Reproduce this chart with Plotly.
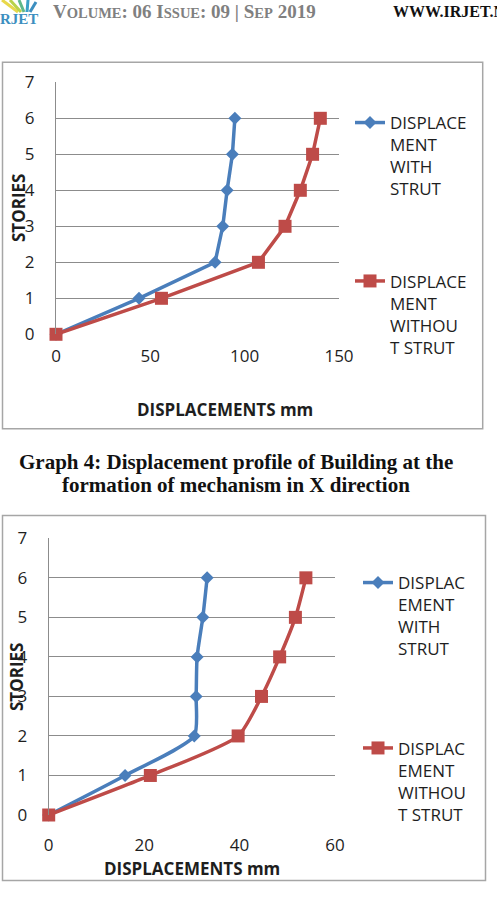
import plotly.graph_objects as go

W, H = 497, 897

# ---------------- data ----------------
stories = [0, 1, 2, 3, 4, 5, 6]
g1_with_strut = [0, 44.0, 84.3, 88.4, 90.7, 93.5, 94.8]
g1_without_strut = [0, 55.9, 107.3, 121.4, 129.5, 136.0, 140.1]
g2_with_strut = [0, 16.0, 30.5, 30.9, 31.1, 32.3, 33.2]
g2_without_strut = [0, 21.3, 39.7, 44.6, 48.4, 51.7, 53.9]
g1_x_ticks = [0, 50, 100, 150]
g2_x_ticks = [0, 20, 40, 60]
y_ticks = [0, 1, 2, 3, 4, 5, 6, 7]
name_with_1 = "DISPLACE<br>MENT<br>WITH<br>STRUT"
name_without_1 = "DISPLACE<br>MENT<br>WITHOU<br>T STRUT"
name_with_2 = "DISPLAC<br>EMENT<br>WITH<br>STRUT"
name_without_2 = "DISPLAC<br>EMENT<br>WITHOU<br>T STRUT"
caption_lines = ["Graph 4: Displacement profile of Building at the",
                 "formation of mechanism in X direction"]

BLUE = "#4a7ebb"
RED = "#be4b48"
GRID = "#8c8c8c"
TXT = "#1e1e1e"
FONT = "Open Sans"


def px(x):
    return x / W


def py(y):
    return 1 - y / H


fig = go.Figure()

# chart 1
fig.add_trace(go.Scatter(x=g1_with_strut, y=stories, name=name_with_1, mode="lines+markers",
                         line=dict(color=BLUE, width=3.5), marker=dict(symbol="diamond", size=10, color=BLUE),
                         xaxis="x", yaxis="y", legend="legend", legendgroup="a", cliponaxis=False))
fig.add_trace(go.Scatter(x=g1_without_strut, y=stories, name=name_without_1, mode="lines+markers",
                         line=dict(color=RED, width=3.5), marker=dict(symbol="square", size=13, color=RED),
                         xaxis="x", yaxis="y", legend="legend", legendgroup="b", cliponaxis=False))
# chart 2
fig.add_trace(go.Scatter(x=g2_with_strut, y=stories, name=name_with_2, mode="lines+markers",
                         line=dict(color=BLUE, width=3.5, shape="spline", smoothing=0.6),
                         marker=dict(symbol="diamond", size=10, color=BLUE),
                         xaxis="x2", yaxis="y2", legend="legend2", legendgroup="c", cliponaxis=False))
fig.add_trace(go.Scatter(x=g2_without_strut, y=stories, name=name_without_2, mode="lines+markers",
                         line=dict(color=RED, width=3.5, shape="spline", smoothing=0.6),
                         marker=dict(symbol="square", size=13, color=RED),
                         xaxis="x2", yaxis="y2", legend="legend2", legendgroup="d", cliponaxis=False))

tickfont = dict(family=FONT, size=17, color=TXT)

ax_common = dict(showgrid=False, zeroline=False, ticks="", tickfont=tickfont, fixedrange=True)
ay_common = dict(showgrid=True, gridcolor=GRID, gridwidth=1, zeroline=False, ticks="",
                 showline=True, linecolor=GRID, linewidth=1, tickfont=tickfont, fixedrange=True,
                 tickvals=y_ticks, range=[0, 7])

fig.update_layout(
    width=W, height=H, margin=dict(l=0, r=0, t=0, b=0, autoexpand=False),
    paper_bgcolor="white", plot_bgcolor="white",
    xaxis=dict(domain=[px(56), px(339)], range=[0, 150], tickvals=g1_x_ticks, anchor="y",
               ticklabelstandoff=10, **ax_common),
    yaxis=dict(domain=[py(334.3), py(82.3)], anchor="x", ticklabelstandoff=17, **ay_common),
    xaxis2=dict(domain=[px(48.7), px(335)], range=[0, 60], tickvals=g2_x_ticks, anchor="y2",
                ticklabelstandoff=18, **ax_common),
    yaxis2=dict(domain=[py(815), py(538.3)], anchor="x2", ticklabelstandoff=17, **ay_common),
    legend=dict(x=px(350), y=py(105), xanchor="left", yanchor="top", valign="top",
                font=dict(family=FONT, size=17, color=TXT), tracegroupgap=67,
                bgcolor="rgba(0,0,0,0)", itemclick=False),
    legend2=dict(x=px(358), y=py(565), xanchor="left", yanchor="top", valign="top",
                 font=dict(family=FONT, size=17, color=TXT), tracegroupgap=74,
                 bgcolor="rgba(0,0,0,0)", itemclick=False),
    showlegend=True,
)

# outer chart borders
for (x0, y0, x1, y1) in [(2.5, 62.3, 482.7, 428.7), (2.5, 515.5, 485.5, 880.5)]:
    fig.add_shape(type="rect", xref="paper", yref="paper", x0=px(x0), x1=px(x1), y0=py(y0), y1=py(y1),
                  line=dict(color="#a6a6a6", width=1.5), fillcolor="rgba(0,0,0,0)", layer="below")

ann = []
bold = dict(family=FONT, size=17, color=TXT)
# axis titles
ann.append(dict(text="<b>DISPLACEMENTS mm</b>", x=px(225), y=py(409), font=bold))
ann.append(dict(text="<b>DISPLACEMENTS mm</b>", x=px(191.5), y=py(868), font=bold))
ann.append(dict(text="<b>STORIES</b>", x=px(18), y=py(208), font=bold, textangle=-90))
ann.append(dict(text="<b>STORIES</b>", x=px(16), y=py(677), font=bold, textangle=-90))
# caption
for txt, yy in zip(caption_lines, [462, 485]):
    ann.append(dict(text="<b>" + txt + "</b>", x=px(236), y=py(yy),
                    font=dict(family="Liberation Serif", size=21, color="#111111")))
# header
sc = "<span style='font-size:14.5px'>"
hdr = ("<b>V" + sc + "OLUME</span>: 06 I" + sc + "SSUE</span>: 09 | S" + sc + "EP</span> 2019</b>")
ann.append(dict(text=hdr, x=px(51), y=py(11), xanchor="left",
                font=dict(family="Liberation Serif", size=19, color="#808080")))
ann.append(dict(text="<b>WWW.IRJET.NET</b>", x=px(391), y=py(11), xanchor="left",
                font=dict(family="Liberation Serif", size=16, color="#111111")))
ann.append(dict(text="<b>RJET</b>", x=px(-2), y=py(19), xanchor="left",
                font=dict(family="Liberation Serif", size=15, color="#3d8fc0")))

for a in ann:
    a.setdefault("xref", "paper")
    a.setdefault("yref", "paper")
    a.setdefault("showarrow", False)
    a.setdefault("xanchor", "center")
    a.setdefault("yanchor", "middle")
    fig.add_annotation(**a)

# logo rays (decorative)
for (x0, y0, x1, y1, c) in [(18, 12, 2, 0, "#e8d84a"), (21, 12, 10, 0, "#b8d24a"),
                            (24, 12, 19, 0, "#5fb88a"), (27, 12, 28, 0, "#3aa0c8"), (30, 12, 36, 2, "#3d8fc0")]:
    fig.add_shape(type="line", xref="paper", yref="paper", x0=px(x0), y0=py(y0), x1=px(x1), y1=py(y1),
                  line=dict(color=c, width=3))

fig.write_html("out.html")
